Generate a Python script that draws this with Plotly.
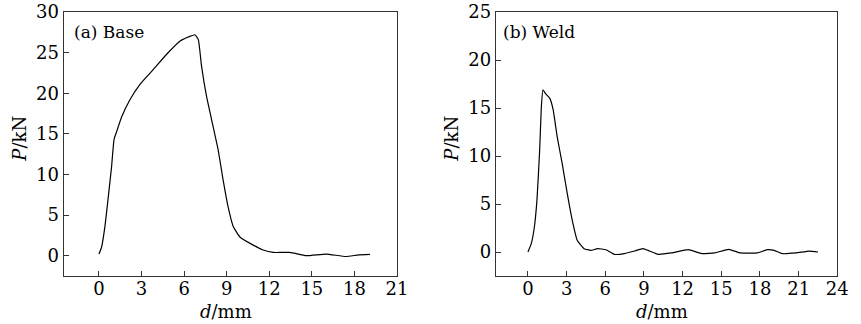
import plotly.graph_objects as go

# (a) Base
base_d = [0, 0.19, 0.42, 0.66, 0.89, 1.06, 1.25, 1.6, 2.18, 2.89, 3.82, 4.77, 5.7, 6.4, 6.76,
          7.0, 7.23, 7.58, 7.94, 8.4, 8.75, 9.1, 9.46, 9.93, 10.87, 11.57, 12.28, 13.45,
          14.6, 16.0, 17.4, 18.3, 19.1]
base_p = [0.2, 1.1, 3.6, 7.3, 11.0, 14.3, 15.3, 17.1, 19.2, 21.1, 22.9, 24.8, 26.4, 27.0, 27.2,
          26.6, 23.3, 19.6, 16.7, 13.0, 9.3, 6.0, 3.6, 2.3, 1.3, 0.7, 0.4, 0.4,
          0.0, 0.2, -0.1, 0.1, 0.15]

# (b) Weld
weld_d = [0, 0.26, 0.5, 0.7, 0.91, 1.04, 1.17, 1.36, 1.7, 1.96, 2.27, 2.66, 3.05, 3.44, 3.83,
          4.36, 4.88, 5.4, 6.05, 6.7, 7.49, 8.27, 8.92, 9.44, 10.1, 11.14, 12.44, 13.5, 14.5,
          15.57, 16.5, 17.8, 18.57, 19.1, 19.74, 20.8, 21.83, 22.5]
weld_p = [0, 0.87, 2.6, 5.4, 10.6, 15.1, 16.9, 16.5, 16.0, 14.8, 12.0, 9.2, 6.1, 3.3, 1.2,
          0.35, 0.17, 0.35, 0.24, -0.24, -0.17, 0.1, 0.35, 0.1, -0.24, -0.1, 0.24, -0.17, -0.1,
          0.28, -0.1, -0.1, 0.24, 0.17, -0.17, -0.1, 0.1, 0.0]

x_ticks_a = [0, 3, 6, 9, 12, 15, 18, 21]
x_ticks_b = [0, 3, 6, 9, 12, 15, 18, 21, 24]
y_ticks_a = [0, 5, 10, 15, 20, 25, 30]
y_ticks_b = [0, 5, 10, 15, 20, 25]

W, H = 861, 324
FONT = "DejaVu Serif"
FS = 18

fig = go.Figure()
fig.add_trace(go.Scatter(x=base_d, y=base_p, mode="lines", line=dict(color="black", width=1.2, shape="spline", smoothing=0.4),
                         xaxis="x", yaxis="y", showlegend=False, hoverinfo="skip"))
fig.add_trace(go.Scatter(x=weld_d, y=weld_p, mode="lines", line=dict(color="black", width=1.2, shape="spline", smoothing=0.4),
                         xaxis="x2", yaxis="y2", showlegend=False, hoverinfo="skip"))

axcommon = dict(showgrid=False, zeroline=False, showline=True, mirror=True, linecolor="#333", linewidth=1,
                ticks="inside", ticklen=5, tickcolor="#333", automargin=False,
                tickfont=dict(family=FONT, size=FS, color="black"))

dom_a = [63.5 / W, 397 / W]
dom_b = [495.7 / W, 837.3 / W]

fig.update_layout(
    width=W, height=H,
    paper_bgcolor="white", plot_bgcolor="white",
    margin=dict(l=0, r=0, t=12, b=48),
    font=dict(family=FONT, color="black"),
    xaxis=dict(domain=dom_a, range=[-2.5, 21], tickvals=x_ticks_a, anchor="y", ticklabelstandoff=-4, **axcommon),
    yaxis=dict(domain=[0, 1], range=[-2.5, 30], tickvals=y_ticks_a, anchor="x", **axcommon),
    xaxis2=dict(domain=dom_b, range=[-2.5, 24], tickvals=x_ticks_b, anchor="y2", ticklabelstandoff=-4, **axcommon),
    yaxis2=dict(domain=[0, 1], range=[-2.5, 25], tickvals=y_ticks_b, anchor="x2", **axcommon),
    annotations=[
        dict(text="(a) Base", xref="x domain", yref="y domain", x=0.025, y=0.97, xanchor="left", yanchor="top",
             showarrow=False, font=dict(family=FONT, size=17, color="black")),
        dict(text="(b) Weld", xref="x2 domain", yref="y2 domain", x=0.015, y=0.97, xanchor="left", yanchor="top",
             showarrow=False, font=dict(family=FONT, size=17, color="black")),
        dict(text="<i>d</i>/mm", xref="paper", yref="paper", x=(dom_a[0] + dom_a[1]) / 2 - 0.005, y=-(312 - 276) / 264,
             xanchor="center", yanchor="middle", showarrow=False, font=dict(family=FONT, size=FS, color="black")),
        dict(text="<i>d</i>/mm", xref="paper", yref="paper", x=(dom_b[0] + dom_b[1]) / 2 - 0.005, y=-(312 - 276) / 264,
             xanchor="center", yanchor="middle", showarrow=False, font=dict(family=FONT, size=FS, color="black")),
        dict(text="<i>P</i>/kN", xref="paper", yref="paper", x=20 / W, y=0.52, textangle=-90,
             xanchor="center", yanchor="middle", showarrow=False, font=dict(family=FONT, size=FS, color="black")),
        dict(text="<i>P</i>/kN", xref="paper", yref="paper", x=(20 + 432) / W, y=0.52, textangle=-90,
             xanchor="center", yanchor="middle", showarrow=False, font=dict(family=FONT, size=FS, color="black")),
    ],
)

fig.write_html("out.html", config={"displayModeBar": False},
               post_script="document.body.style.margin='0';document.body.style.padding='0';")
